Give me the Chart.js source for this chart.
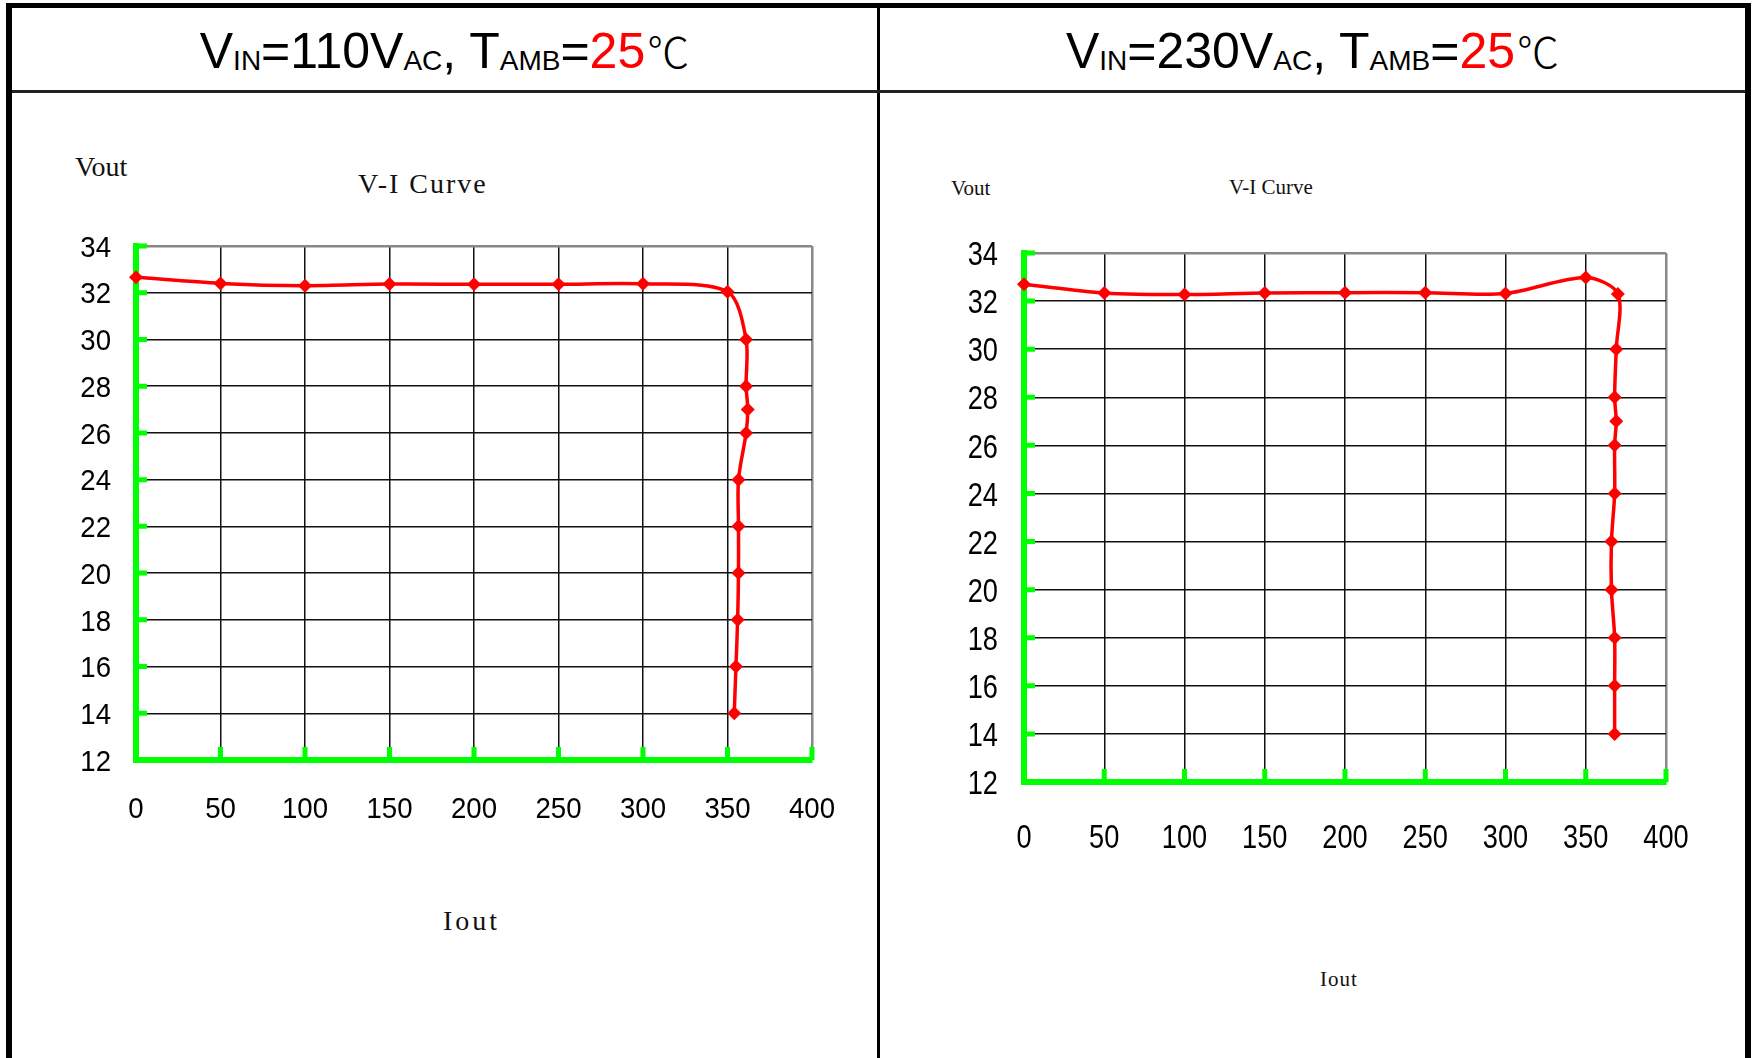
<!DOCTYPE html>
<html>
<head>
<meta charset="utf-8">
<script src="https://cdn.jsdelivr.net/npm/chart.js@4.4.1/dist/chart.umd.min.js"></script>
<style>
body { margin:0; width:1753px; height:1058px; background:#fff; position:relative; overflow:hidden; }
.rule { position:absolute; background:#000; }
.head { position:absolute; top:25px; height:50px; line-height:50px; text-align:center; font-family:'Liberation Sans',Arial,sans-serif; font-size:50px; white-space:nowrap; color:#000; }
.sub { font-size:28px; position:relative; top:2px; }
.red { color:#ff0000; }
.deg { font-family:'Noto Sans CJK SC',sans-serif; font-size:42px; font-weight:300; margin-left:2px; }
.lbl { position:absolute; font-family:'Liberation Serif',serif; line-height:1; white-space:nowrap; color:#111; }
canvas { position:absolute; }
</style>
</head>
<body>

<div class="rule" style="left:6px;top:3px;width:1745px;height:5px;"></div>
<div class="rule" style="left:6px;top:3px;width:6px;height:1055px;"></div>
<div class="rule" style="left:1745px;top:3px;width:6px;height:1055px;"></div>
<div class="rule" style="left:877px;top:3px;width:3px;height:1055px;"></div>
<div class="rule" style="left:12px;top:90px;width:1733px;height:3px;background:#222;"></div>

<div class="head" style="left:12px;width:865px;">V<span class="sub">IN</span>=110V<span class="sub">AC</span>, T<span class="sub">AMB</span>=<span class="red">25</span><span class="deg">℃</span></div>
<div class="head" style="left:880px;width:865px;">V<span class="sub">IN</span>=230V<span class="sub">AC</span>, T<span class="sub">AMB</span>=<span class="red">25</span><span class="deg">℃</span></div>

<div class="lbl" style="left:75px;top:153px;font-size:28px;">Vout</div>
<div class="lbl" style="left:358px;top:170px;font-size:28px;letter-spacing:2px;">V-I Curve</div>
<div class="lbl" style="left:443px;top:907px;font-size:28px;letter-spacing:3px;">Iout</div>

<div class="lbl" style="left:951px;top:178px;font-size:21px;">Vout</div>
<div class="lbl" style="left:1229px;top:177px;font-size:21px;">V-I Curve</div>
<div class="lbl" style="left:1320px;top:969px;font-size:21px;letter-spacing:1px;">Iout</div>

<canvas id="chart-110" width="860" height="900" style="left:12px;top:95px;"></canvas>
<canvas id="chart-230" width="865" height="900" style="left:880px;top:95px;"></canvas>

<script>
// tick labels
const currentTicks = [0, 50, 100, 150, 200, 250, 300, 350, 400];
const voltageTicks = [12, 14, 16, 18, 20, 22, 24, 26, 28, 30, 32, 34];

// 110VAC curve
const current110 = [0, 50, 100, 150, 200, 250, 300, 350, 361, 361, 362, 361, 356.5, 356.5, 356.5, 356, 355, 354];
const voltage110 = [32.66, 32.40, 32.30, 32.37, 32.36, 32.36, 32.38, 32.04, 30, 28, 27, 26, 24, 22, 20, 18, 16, 14];

// 230VAC curve
const current230 = [0, 50, 100, 150, 200, 250, 300, 350, 370, 369, 368, 369, 368, 368, 366, 366, 368, 368, 368];
const voltage230 = [32.70, 32.34, 32.27, 32.34, 32.35, 32.35, 32.32, 32.98, 32.3, 30, 28, 27, 26, 24, 22, 20, 18, 16, 14];

const green = '#00ff00';

// little green stubs on the inside of both axes
const axisStubs = {
    id: 'axisStubs',
    beforeDatasetsDraw(chart, args, opts) {
        const {ctx, chartArea, scales} = chart;
        ctx.save();
        ctx.strokeStyle = green;
        ctx.lineWidth = opts.width;
        ctx.beginPath();
        scales.y.ticks.forEach(t => {
            const y = scales.y.getPixelForValue(t.value);
            ctx.moveTo(chartArea.left, y);
            ctx.lineTo(chartArea.left + opts.lenY, y);
        });
        scales.x.ticks.forEach(t => {
            if (t.value === 0) return;
            const x = scales.x.getPixelForValue(t.value);
            ctx.moveTo(x, chartArea.bottom);
            ctx.lineTo(x, chartArea.bottom - opts.lenX);
        });
        ctx.stroke();
        ctx.restore();
    }
};

// tick labels in a condensed (narrow) look, placed from the scales' ticks
const narrowTicks = {
    id: 'narrowTicks',
    afterDraw(chart, args, o) {
        const {ctx, chartArea, scales} = chart;
        const cap = o.size * 0.716;
        ctx.save();
        ctx.fillStyle = '#000';
        ctx.font = o.size + 'px "Liberation Sans", Arial';
        ctx.textBaseline = 'alphabetic';
        scales.y.ticks.forEach(t => {
            const y = scales.y.getPixelForValue(t.value);
            ctx.save();
            ctx.translate(chartArea.left - o.yGap, y + cap / 2);
            ctx.scale(o.sx, 1);
            ctx.textAlign = 'right';
            ctx.fillText(t.label ?? String(t.value), 0, 0);
            ctx.restore();
        });
        scales.x.ticks.forEach(t => {
            const x = scales.x.getPixelForValue(t.value);
            ctx.save();
            ctx.translate(x, chartArea.bottom + o.xGap + cap / 2);
            ctx.scale(o.sx, 1);
            ctx.textAlign = 'center';
            ctx.fillText(t.label ?? String(t.value), 0, 0);
            ctx.restore();
        });
        ctx.restore();
    }
};

function makeChart(canvas, xs, ys, s) {
    const points = xs.map((x, i) => ({x: x, y: ys[i]}));

    return new Chart(canvas, {
        type: 'scatter',
        data: {
            datasets: [{
                data: points,
                showLine: true,
                tension: 0.3,
                borderColor: '#ff0000',
                borderWidth: 3.5,
                backgroundColor: '#ff0000',
                pointStyle: 'rectRot',
                pointRadius: s.pointRadius,
                pointBorderWidth: 0,
                clip: false
            }]
        },
        options: {
            responsive: false,
            animation: false,
            events: [],
            layout: { padding: s.padding },
            plugins: {
                legend: { display: false },
                tooltip: { enabled: false },
                axisStubs: { width: 5, lenY: s.stubY, lenX: s.stubX },
                narrowTicks: s.labels
            },
            scales: {
                x: {
                    type: 'linear',
                    min: 0,
                    max: 400,
                    afterBuildTicks: (scale) => { scale.ticks = currentTicks.map(v => ({value: v})); },
                    afterFit: (scale) => { scale.height = s.xHeight; },
                    ticks: { display: false },
                    grid: {
                        drawTicks: false,
                        color: (c) => c.tick.value === 400 ? '#888' : (c.tick.value === 0 ? 'rgba(0,0,0,0)' : '#111'),
                        lineWidth: (c) => c.tick.value === 400 ? 2.5 : 1.5
                    },
                    border: { color: green, width: 6 }
                },
                y: {
                    type: 'linear',
                    min: 12,
                    max: 34,
                    afterBuildTicks: (scale) => { scale.ticks = voltageTicks.map(v => ({value: v})); },
                    afterFit: (scale) => { scale.width = s.yWidth; },
                    ticks: { display: false },
                    grid: {
                        drawTicks: false,
                        color: (c) => c.tick.value === 34 ? '#888' : (c.tick.value === 12 ? 'rgba(0,0,0,0)' : '#111'),
                        lineWidth: (c) => c.tick.value === 34 ? 2.5 : 1.5
                    },
                    border: { color: green, width: 6 }
                }
            }
        },
        plugins: [axisStubs, narrowTicks]
    });
}

let chart110 = makeChart(document.getElementById('chart-110'), current110, voltage110, {
    pointRadius: 7, stubY: 11, stubX: 13,
    padding: {left: 0, top: 151, right: 60, bottom: 0},
    xHeight: 235, yWidth: 124,
    labels: {size: 30, sx: 0.92, yGap: 25, xGap: 47}
});

let chart230 = makeChart(document.getElementById('chart-230'), current230, voltage230, {
    pointRadius: 7, stubY: 11, stubX: 13,
    padding: {left: 0, top: 158, right: 79, bottom: 0},
    xHeight: 213, yWidth: 144,
    labels: {size: 34, sx: 0.8, yGap: 26, xGap: 54}
});
</script>
</body>
</html>
